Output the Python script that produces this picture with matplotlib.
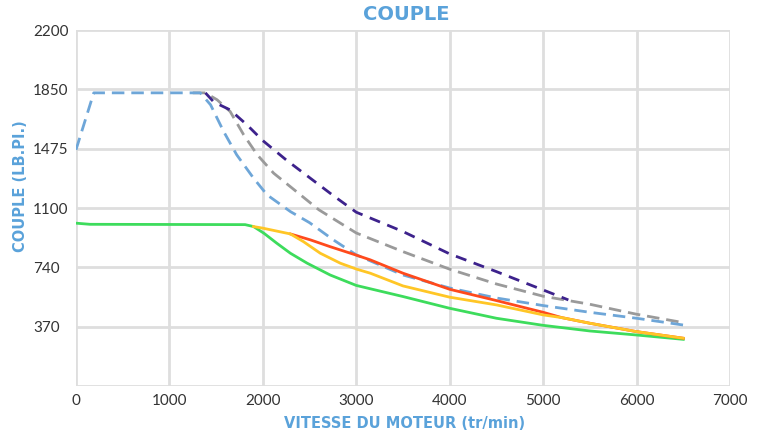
import matplotlib
matplotlib.use("Agg")
import matplotlib.pyplot as plt

# Engine speed (tr/min) and torque (lb-ft)
blue_x = [0, 190, 1330, 1440, 1580, 1720, 1900, 2045, 2295, 2500, 2750, 3000,
          3500, 4000, 4500, 5000, 5500, 6000, 6500]
blue_y = [1468, 1822, 1822, 1748, 1582, 1437, 1292, 1188, 1084, 1015, 910, 815,
          690, 609, 547, 500, 458, 421, 379]

gray_x = [1250, 1385, 1510, 1650, 1795, 1940, 2115, 2360, 2600, 3000, 3500,
          4000, 4500, 5000, 5500, 6000, 6500]
gray_y = [1822, 1822, 1779, 1706, 1561, 1437, 1323, 1208, 1095, 951, 835,
          726, 634, 558, 508, 446, 394]

purple_x = [1385, 1475, 1650, 1830, 2000, 2250, 2500, 2750, 3000, 3500, 4000,
            4500, 5000, 5270]
purple_y = [1822, 1765, 1716, 1623, 1525, 1405, 1295, 1185, 1080, 960, 821,
            711, 597, 535]

green_x = [0, 150, 1810, 1900, 2010, 2150, 2295, 2475, 2720, 3000, 3500,
           4000, 4500, 5000, 5500, 6000, 6500]
green_y = [1012, 1005, 1003, 991, 950, 887, 825, 763, 690, 625, 556,
           483, 421, 377, 342, 317, 290]

yellow_x = [1900, 2000, 2295, 2435, 2615, 2830, 3005, 3150, 3500, 4000, 4500,
            5000, 5200, 5500, 6000, 6500]
yellow_y = [991, 981, 945, 897, 825, 763, 726, 701, 622, 552, 504,
            442, 425, 390, 338, 297]

red_x = [2295, 2510, 2720, 2970, 3150, 3500, 4000, 4500, 5000, 5200, 5500,
         6000, 6500]
red_y = [945, 908, 866, 819, 784, 701, 601, 531, 458, 425, 390,
         338, 297]

# y ticks: 500 N.m steps shown in lb-ft
NM_TO_LBFT = 0.73756
y_tick_nm = [0, 500, 1000, 1500, 2000, 2500, 3000]
y_tick_labels = ["", "370", "740", "1100", "1475", "1850", "2200"]
x_ticks = [0, 1000, 2000, 3000, 4000, 5000, 6000, 7000]

BLUE_TEXT = "#5aa2da"
TICK_TEXT = "#333333"
GRID = "#dedede"

fig = plt.figure(figsize=(7.7, 4.38), dpi=100, facecolor="white")
ax = fig.add_axes([76 / 770, 52 / 438, 654 / 770, 356 / 438])

# dashed curves first, solid curves on top
ax.plot(gray_x, gray_y, color="#9a9a9a", lw=2, dashes=(4.5, 2.5), zorder=3)
ax.plot(purple_x, purple_y, color="#3d228c", lw=2, dashes=(4, 2.8), zorder=3)
ax.plot(blue_x, blue_y, color="#6ea6d8", lw=2, dashes=(4.5, 2.5), zorder=3)
ax.plot(green_x, green_y, color="#3ddc5c", lw=2, zorder=4)
ax.plot(red_x, red_y, color="#ff4a1c", lw=2, zorder=4)
ax.plot(yellow_x, yellow_y, color="#ffc626", lw=2, zorder=5)

ax.set_xlim(0, 7000)
ax.set_ylim(0, 3000 * NM_TO_LBFT)
ax.set_xticks(x_ticks)
ax.set_yticks([v * NM_TO_LBFT for v in y_tick_nm])
ax.set_yticklabels(y_tick_labels)

ax.grid(True, color=GRID, lw=2)
ax.set_axisbelow(True)
for s in ax.spines.values():
    s.set_visible(False)
ax.tick_params(length=0, labelsize=11, labelcolor=TICK_TEXT)
ax.tick_params(axis="x", pad=6)
ax.tick_params(axis="y", pad=31)
for lab in ax.get_yticklabels():
    lab.set_horizontalalignment("left")
for lab in ax.get_xticklabels() + ax.get_yticklabels():
    lab.set_fontfamily("Lato")

fig.text(406 / 770, 1 - 14 / 438, "COUPLE", ha="center", va="center",
         color=BLUE_TEXT, fontsize=14, fontweight="bold")
fig.text(405 / 770, 1 - 424 / 438, "VITESSE DU MOTEUR (tr/min)", ha="center",
         va="center", color=BLUE_TEXT, fontsize=10.5, fontweight="bold")
fig.text(21 / 770, 1 - 186 / 438, "COUPLE (LB.PI.)", ha="center", va="center",
         rotation=90, color=BLUE_TEXT, fontsize=10.5, fontweight="bold")

fig.savefig("out.png", dpi=100, facecolor="white")
plt.close(fig)
